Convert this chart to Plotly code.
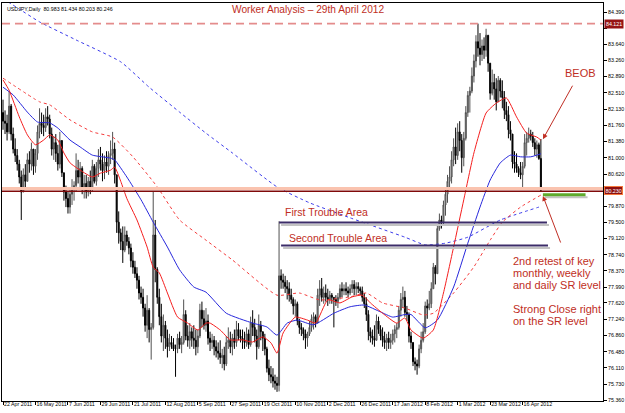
import plotly.graph_objects as go

# ---------------- DATA ----------------
bar_index = list(range(266))

highs = [
    82.35, 82.10, 82.00, 82.55, 82.25, 81.70, 81.45, 81.20, 80.95, 80.70,
    80.75, 80.85, 81.10, 81.15, 81.35, 81.10, 81.20, 81.75, 82.15, 82.05,
    82.00, 82.15, 82.20, 82.00, 81.70, 81.50, 81.55, 81.30, 81.60, 81.35,
    80.60, 80.35, 80.20, 80.30, 80.50, 80.45, 81.10, 80.95, 80.90, 80.80,
    80.60, 80.60, 80.55, 80.70, 80.95, 80.85, 80.90, 81.20, 81.25, 81.10,
    81.05, 81.15, 81.15, 81.40, 81.60, 81.35, 80.55, 79.75, 79.35, 79.40,
    79.40, 79.30, 79.15, 79.00, 78.80, 78.60, 78.45, 78.25, 78.00, 77.95,
    77.60, 77.80, 77.50, 77.15, 80.22, 79.55, 78.45, 77.95, 77.60, 77.35,
    77.20, 77.00, 76.90, 76.85, 76.80, 76.65, 76.90, 76.95, 76.85, 77.70,
    77.45, 77.10, 77.15, 77.05, 77.10, 77.00, 77.00, 77.60, 77.65, 77.45,
    77.50, 77.35, 76.95, 76.90, 76.85, 76.75, 76.70, 76.75, 76.55, 76.60,
    76.85, 77.05, 76.95, 76.90, 77.00, 77.20, 77.15, 77.00, 77.00, 76.95,
    77.05, 77.00, 77.30, 77.45, 77.25, 77.00, 77.35, 77.20, 76.95, 76.90,
    76.60, 76.30, 76.15, 76.10, 75.95, 75.90, 79.52, 78.40, 78.30, 78.25,
    78.15, 78.10, 77.95, 77.75, 77.70, 77.65, 77.25, 77.15, 77.05, 77.00,
    76.95, 77.20, 77.35, 77.40, 77.35, 77.95, 78.15, 78.20, 78.00, 78.05,
    77.95, 77.90, 77.85, 77.75, 77.80, 77.85, 78.05, 78.10, 78.05, 78.10,
    78.00, 78.05, 78.15, 78.15, 78.10, 78.10, 78.00, 78.00, 77.85, 77.75,
    77.45, 77.05, 77.00, 77.10, 77.35, 77.30, 77.10, 77.05, 76.95, 76.90,
    76.95, 76.90, 77.00, 77.10, 77.15, 77.55, 77.85, 78.00, 77.90, 77.55,
    77.40, 76.95, 76.70, 76.35, 76.30, 76.65, 76.95, 77.15, 77.65, 77.70,
    77.90, 78.10, 78.55, 78.50, 79.45, 79.70, 79.65, 80.00, 80.25, 80.60,
    80.80, 81.15, 81.45, 81.70, 81.80, 81.85, 81.55, 81.60, 82.20, 82.55,
    82.65, 83.10, 83.40, 83.85, 84.12, 83.90, 83.75, 83.80, 84.00, 83.85,
    83.20, 83.05, 82.95, 82.85, 82.90, 82.85, 82.80, 82.55, 82.30, 82.20,
    81.85, 81.45, 81.15, 81.10, 80.80, 80.90, 80.90, 81.55, 81.60, 81.70,
    81.65, 81.60, 81.45, 81.40, 81.35, 81.434,
]

lows = [
    81.65, 81.55, 81.40, 81.55, 81.40, 81.10, 80.90, 80.70, 80.40, 79.55,
    80.20, 80.30, 80.50, 80.65, 80.70, 80.60, 80.65, 80.95, 81.45, 81.55,
    81.50, 81.60, 81.75, 81.45, 81.05, 80.95, 80.90, 80.70, 80.75, 80.55,
    80.00, 79.85, 79.70, 79.70, 79.90, 80.00, 80.20, 80.40, 80.30, 80.15,
    80.05, 80.05, 80.10, 80.15, 80.20, 80.40, 80.35, 80.55, 80.70, 80.45,
    80.50, 80.65, 80.60, 80.85, 80.95, 80.40, 79.25, 79.00, 78.85, 78.55,
    78.80, 78.95, 78.75, 78.45, 78.30, 78.20, 77.95, 77.70, 77.60, 77.30,
    76.95, 76.80, 76.70, 76.30, 77.00, 78.10, 77.60, 77.10, 76.70, 76.50,
    76.55, 76.35, 76.50, 76.55, 76.50, 75.90, 76.45, 76.55, 76.45, 76.65,
    76.75, 76.60, 76.55, 76.60, 76.55, 76.40, 76.45, 76.80, 77.05, 77.00,
    76.95, 76.65, 76.50, 76.55, 76.40, 76.35, 76.30, 76.20, 76.10, 76.05,
    76.15, 76.55, 76.45, 76.40, 76.55, 76.60, 76.75, 76.70, 76.55, 76.55,
    76.60, 76.55, 76.60, 76.85, 76.70, 76.30, 76.55, 76.75, 76.50, 76.40,
    76.00, 75.80, 75.75, 75.65, 75.60, 75.55, 75.56, 77.95, 77.95, 77.85,
    77.70, 77.65, 77.60, 77.35, 77.30, 77.10, 76.90, 76.85, 76.75, 76.55,
    76.60, 76.85, 76.95, 77.00, 77.05, 77.15, 77.55, 77.65, 77.60, 77.65,
    77.55, 77.60, 77.60, 77.05, 77.55, 77.50, 77.70, 77.75, 77.80, 77.80,
    77.75, 77.80, 77.85, 77.80, 77.80, 77.85, 77.80, 77.65, 77.50, 77.20,
    76.75, 76.70, 76.65, 76.60, 76.75, 76.90, 76.75, 76.60, 76.55, 76.50,
    76.55, 76.55, 76.65, 76.70, 76.80, 77.00, 77.30, 77.50, 77.30, 77.20,
    76.70, 76.55, 76.15, 76.05, 75.95, 76.10, 76.45, 76.70, 76.90, 77.25,
    77.45, 77.50, 77.95, 78.05, 78.75, 79.30, 79.35, 79.45, 79.65, 79.95,
    80.30, 80.40, 80.80, 80.85, 80.95, 81.15, 80.65, 80.80, 81.40, 81.95,
    82.05, 82.50, 82.75, 83.10, 83.35, 83.15, 83.25, 83.30, 83.35, 83.00,
    82.35, 82.45, 82.35, 82.10, 82.40, 82.40, 82.15, 81.90, 81.85, 81.45,
    81.40, 80.75, 80.65, 80.65, 80.55, 80.50, 80.30, 80.75, 81.05, 81.35,
    81.40, 81.25, 81.05, 81.00, 80.95, 80.203,
]

closes = [
    81.85, 81.80, 81.60, 82.20, 81.55, 81.20, 81.05, 80.85, 80.55, 80.20,
    80.60, 80.45, 80.95, 80.85, 81.20, 80.80, 81.10, 81.60, 81.80, 81.75,
    81.70, 81.95, 81.90, 81.55, 81.20, 81.35, 81.10, 80.85, 81.40, 80.65,
    80.20, 80.05, 79.85, 80.15, 80.30, 80.35, 80.70, 80.55, 80.75, 80.30,
    80.40, 80.20, 80.45, 80.30, 80.80, 80.45, 80.75, 80.95, 80.85, 80.70,
    80.90, 80.80, 81.05, 81.10, 81.20, 80.60, 79.50, 79.25, 79.05, 78.85,
    79.20, 79.05, 78.90, 78.60, 78.45, 78.30, 78.15, 77.85, 77.75, 77.50,
    77.10, 77.45, 77.00, 77.05, 79.20, 78.40, 77.75, 77.30, 76.85, 77.10,
    76.80, 76.60, 76.70, 76.65, 76.55, 76.55, 76.80, 76.65, 76.70, 77.35,
    76.85, 76.75, 76.95, 76.80, 76.75, 76.60, 76.85, 77.45, 77.25, 77.10,
    77.20, 76.80, 76.70, 76.75, 76.60, 76.50, 76.45, 76.35, 76.40, 76.20,
    76.70, 76.75, 76.60, 76.80, 76.70, 77.00, 76.85, 76.80, 76.75, 76.70,
    76.90, 76.65, 77.15, 77.05, 76.85, 76.60, 77.10, 76.95, 76.80, 76.55,
    76.10, 75.95, 75.90, 75.80, 75.75, 75.70, 78.25, 78.15, 78.10, 78.00,
    77.95, 77.80, 77.70, 77.55, 77.60, 77.20, 77.05, 77.00, 76.90, 76.80,
    76.90, 77.05, 77.25, 77.30, 77.15, 77.80, 77.95, 77.75, 77.85, 77.75,
    77.70, 77.80, 77.75, 77.70, 77.65, 77.75, 77.95, 77.90, 77.95, 77.90,
    77.85, 77.95, 78.05, 77.95, 78.00, 77.95, 77.90, 77.75, 77.60, 77.35,
    76.95, 76.85, 76.80, 76.75, 77.20, 77.00, 76.85, 76.75, 76.70, 76.80,
    76.70, 76.75, 76.90, 77.00, 77.05, 77.45, 77.70, 77.75, 77.40, 77.35,
    76.85, 76.70, 76.25, 76.20, 76.15, 76.55, 76.75, 76.95, 77.55, 77.50,
    77.60, 77.95, 78.45, 78.30, 79.35, 79.55, 79.50, 79.90, 80.15, 80.45,
    80.55, 80.95, 81.25, 81.05, 81.60, 81.40, 81.00, 81.45, 82.05, 82.45,
    82.55, 82.90, 83.25, 83.70, 83.55, 83.40, 83.60, 83.50, 83.85, 83.20,
    82.50, 82.75, 82.60, 82.30, 82.80, 82.55, 82.40, 82.10, 82.00, 81.65,
    81.55, 80.90, 80.85, 80.75, 80.65, 80.60, 80.80, 81.35, 81.45, 81.55,
    81.50, 81.35, 81.20, 81.30, 80.98, 80.246,
]

first_open = 82.05
last_open = 80.983

# Moving averages (bar index, price)
ma_fast_red_idx = [0, 3, 8, 12, 16, 20, 23, 27, 30, 33, 38, 44, 48, 53, 55, 58, 61, 66, 71, 74,
                   77, 81, 86, 91, 96, 100, 102, 107, 112, 118, 123, 128, 132, 135, 138, 144,
                   150, 154, 160, 166, 172, 177, 181, 187, 194, 198, 201, 207, 212, 217, 222,
                   227, 232, 238, 243, 248, 253, 258, 263, 265]
ma_fast_red_val = [82.81, 82.57, 81.95, 81.53, 81.30, 81.41, 81.53, 81.41, 81.11, 80.88, 80.71,
                   80.55, 80.64, 80.71, 80.78, 80.45, 80.05, 79.55, 78.92, 78.45, 78.32, 77.85,
                   77.29, 77.15, 76.99, 77.15, 77.15, 76.99, 76.76, 76.76, 76.71, 76.83, 76.69,
                   76.45, 76.92, 77.29, 77.22, 77.15, 77.69, 77.62, 77.76, 77.80, 77.62, 77.38,
                   77.15, 77.27, 76.99, 76.80, 76.99, 77.85, 78.92, 80.02, 81.11, 82.04, 82.27,
                   82.39, 81.95, 81.57, 81.48, 81.41]

ma_mid_blue_idx = [0, 5, 12, 17, 23, 27, 33, 38, 44, 53, 55, 61, 68, 74, 81, 87, 94, 100, 110,
                   123, 130, 135, 140, 145, 153, 163, 171, 178, 186, 192, 198, 201, 208, 214,
                   222, 229, 235, 240, 245, 250, 255, 260, 265]
ma_mid_blue_val = [82.64, 82.46, 82.06, 81.83, 81.81, 81.69, 81.41, 81.25, 81.06, 80.99, 80.95,
                   80.55, 80.02, 79.50, 78.92, 78.39, 77.99, 77.87, 77.38, 77.15, 77.06, 76.87,
                   77.15, 77.22, 77.11, 77.38, 77.53, 77.57, 77.41, 77.29, 77.35, 77.35, 77.04,
                   77.22, 77.99, 79.01, 79.85, 80.48, 80.88, 81.06, 81.02, 81.02, 81.09]

ma_slow_red_idx = [0, 18, 23, 33, 44, 54, 64, 76, 87, 100, 113, 135, 146, 156, 171, 179, 187,
                   198, 207, 212, 222, 232, 240, 246, 255, 265]
ma_slow_red_val = [82.85, 82.30, 82.23, 81.88, 81.60, 81.48, 81.02, 80.32, 79.55, 79.08, 78.62,
                   77.80, 77.85, 77.69, 77.76, 77.85, 77.62, 77.50, 77.34, 77.38, 77.85, 78.46,
                   79.08, 79.50, 79.85, 80.13]

ma_slow_blue_idx = [0, 8, 18, 36, 58, 72, 87, 100, 113, 135, 151, 171, 198, 208, 218, 229, 245, 264]
ma_slow_blue_val = [84.70, 84.46, 84.16, 83.74, 83.23, 82.64, 82.06, 81.57, 81.11, 80.32, 79.95,
                    79.60, 79.15, 78.97, 79.01, 79.15, 79.55, 79.85]

date_tick_idx = [0, 16, 32, 48, 64, 80, 96, 112, 128, 144, 160, 176, 192, 208, 224, 240, 256]
date_tick_text = ["22 Apr 2011", "16 May 2011", "7 Jun 2011", "29 Jun 2011", "21 Jul 2011",
                  "12 Aug 2011", "5 Sep 2011", "27 Sep 2011", "19 Oct 2011", "10 Nov 2011",
                  "2 Dec 2011", "26 Dec 2011", "17 Jan 2012", "8 Feb 2012", "1 Mar 2012",
                  "23 Mar 2012", "16 Apr 2012"]

price_ticks = [84.39, 84.01, 83.64, 83.26, 82.89, 82.51, 82.13, 81.76, 81.38, 81.00, 80.62,
               80.24, 79.87, 79.50, 79.12, 78.74, 78.37, 77.99, 77.62, 77.24, 76.86, 76.48,
               76.11, 75.73, 75.36]
# ticks hidden behind the price-label boxes in the original are left without text
hidden_ticks = [84.01, 80.24]
price_tick_text = ["" if v in hidden_ticks else "%.3f" % v for v in price_ticks]

high_level = 84.121
sr_level_light = 80.285
sr_level = 80.22
sr_label = 80.23
trouble1 = {"x0": 136, "x1": 268, "y": 79.49}
trouble2 = {"x0": 137, "x1": 268.5, "y": 78.955}
green_level = {"x0": 266, "x1": 287, "y": 80.14}

# ---------------- FIGURE ----------------
opens = [first_open] + closes[:-1]
opens[-1] = last_open
highs = [max(h, o, c) for h, o, c in zip(highs, opens, closes)]
lows = [min(l, o, c) for l, o, c in zip(lows, opens, closes)]

TXT_RED = "rgb(192,46,36)"
FONT = "Liberation Sans"

fig = go.Figure()

fig.add_trace(go.Candlestick(
    x=bar_index, open=opens, high=highs, low=lows, close=closes,
    increasing=dict(line=dict(color="rgb(80,80,80)", width=1), fillcolor="rgb(160,160,160)"),
    decreasing=dict(line=dict(color="black", width=1), fillcolor="black"),
    whiskerwidth=0, showlegend=False, hoverinfo="skip",
))

def ma(xs, ys, color, dash):
    fig.add_trace(go.Scatter(x=xs, y=ys, mode="lines",
                             line=dict(color=color, width=1, dash=dash, shape="spline", smoothing=0.5),
                             showlegend=False, hoverinfo="skip"))

ma(ma_slow_blue_idx, ma_slow_blue_val, "rgb(60,60,235)", "dot")
ma(ma_slow_red_idx, ma_slow_red_val, "rgb(245,60,60)", "dot")
ma(ma_mid_blue_idx, ma_mid_blue_val, "rgb(40,40,220)", "solid")
ma(ma_fast_red_idx, ma_fast_red_val, "rgb(245,30,30)", "solid")

shapes = []
shapes.append(dict(type="line", xref="paper", x0=0, x1=1, yref="y", y0=high_level, y1=high_level,
                   line=dict(color="rgb(228,140,140)", width=1.6, dash="8px,5px")))
shapes.append(dict(type="line", xref="paper", x0=0, x1=1, yref="y", y0=sr_level_light, y1=sr_level_light,
                   line=dict(color="rgb(250,195,175)", width=3)))
shapes.append(dict(type="line", xref="paper", x0=0, x1=1, yref="y", y0=sr_level, y1=sr_level,
                   line=dict(color="rgb(128,10,10)", width=1.5)))

for t in (trouble1, trouble2):
    shapes.append(dict(type="line", xref="x", x0=t["x0"] + 1, x1=t["x1"] + 1, yref="y",
                       ysizemode="pixel", yanchor=t["y"], y0=-2.5, y1=-2.5,
                       line=dict(color="rgb(195,195,195)", width=2)))
    shapes.append(dict(type="line", xref="x", x0=t["x0"], x1=t["x1"], yref="y",
                       y0=t["y"], y1=t["y"], line=dict(color="rgb(60,45,105)", width=2)))

shapes.append(dict(type="line", xref="x", x0=green_level["x0"] + 1, x1=green_level["x1"] + 1, yref="y",
                   ysizemode="pixel", yanchor=green_level["y"], y0=-2.5, y1=-2.5,
                   line=dict(color="rgb(195,195,195)", width=2)))
shapes.append(dict(type="line", xref="x", x0=green_level["x0"], x1=green_level["x1"], yref="y",
                   y0=green_level["y"], y1=green_level["y"],
                   line=dict(color="rgb(95,170,45)", width=3)))

ann = []
ann.append(dict(text="USDJPY,Daily  80.983 81.434 80.203 80.246", xref="paper", yref="paper",
                x=0, y=1, xanchor="left", yanchor="top", xshift=3, yshift=-1, showarrow=False,
                font=dict(family=FONT, size=5.3, color="black")))
ann.append(dict(text="Worker Analysis \u2013 29th April 2012", x=150.5, y=84.44, xref="x", yref="y",
                showarrow=False, xanchor="center", yanchor="middle",
                font=dict(family=FONT, size=10.2, color=TXT_RED)))
ann.append(dict(text="BEOB", x=284.5, y=82.97, xref="x", yref="y", showarrow=False,
                font=dict(family=FONT, size=11, color=TXT_RED)))
ann.append(dict(text="First Trouble Area", x=138, y=79.74, xref="x", yref="y", showarrow=False,
                xanchor="left", yanchor="middle", font=dict(family=FONT, size=10.5, color=TXT_RED)))
ann.append(dict(text="Second Trouble Area", x=140, y=79.14, xref="x", yref="y", showarrow=False,
                xanchor="left", yanchor="middle", font=dict(family=FONT, size=10.5, color=TXT_RED)))
note_lines = [("2nd retest of key", 78.595), ("monthly, weekly", 78.316), ("and daily SR level", 78.037),
              ("Strong Close right", 77.48), ("on the SR level", 77.20)]
for txt, yy in note_lines:
    ann.append(dict(text=txt, x=250.2, y=yy, xref="x", yref="y", showarrow=False,
                    xanchor="left", yanchor="middle", font=dict(family=FONT, size=11, color=TXT_RED)))

ann.append(dict(text="", x=266, y=81.43, ax=281, ay=82.71, xref="x", yref="y", axref="x", ayref="y",
                showarrow=True, arrowhead=2, arrowsize=1, arrowwidth=1, arrowcolor=TXT_RED))
ann.append(dict(text="", x=266, y=80.11, ax=275, ay=78.99, xref="x", yref="y", axref="x", ayref="y",
                showarrow=True, arrowhead=2, arrowsize=1, arrowwidth=1, arrowcolor=TXT_RED))

ann.append(dict(text="84.121", xref="paper", x=1, yref="y", y=high_level, xanchor="left", yanchor="middle",
                xshift=1, showarrow=False, bgcolor="rgb(150,20,20)", borderpad=1,
                font=dict(family=FONT, size=5.3, color="white")))
ann.append(dict(text="80.230", xref="paper", x=1, yref="y", y=sr_label, xanchor="left", yanchor="middle",
                xshift=1, showarrow=False, bgcolor="rgb(140,15,15)", bordercolor="rgb(245,120,60)",
                borderwidth=1, borderpad=0.5,
                font=dict(family=FONT, size=5.3, color="white")))

fig.update_layout(
    width=625, height=413,
    margin=dict(l=2, r=22, t=3, b=12, autoexpand=False),
    paper_bgcolor="white", plot_bgcolor="white",
    shapes=shapes, annotations=ann, showlegend=False,
    xaxis=dict(range=[-0.5, 295.6], tickmode="array", tickvals=date_tick_idx, ticktext=date_tick_text,
               ticks="outside", ticklen=3, tickcolor="black", ticklabelposition="outside right",
               tickangle=0, ticklabelstandoff=-2,
               tickfont=dict(family=FONT, size=5.3, color="black"), automargin=False,
               showline=True, linecolor="black", linewidth=1, mirror=True,
               showgrid=False, zeroline=False, rangeslider=dict(visible=False)),
    yaxis=dict(range=[75.337, 84.60], side="right", tickmode="array", tickvals=price_ticks,
               ticktext=price_tick_text, ticks="outside", ticklen=3, tickcolor="black",
               tickfont=dict(family=FONT, size=5.3, color="black"), automargin=False,
               showline=True, linecolor="black", linewidth=1, mirror=True,
               showgrid=False, zeroline=False),
)

fig.write_html("out.html")
